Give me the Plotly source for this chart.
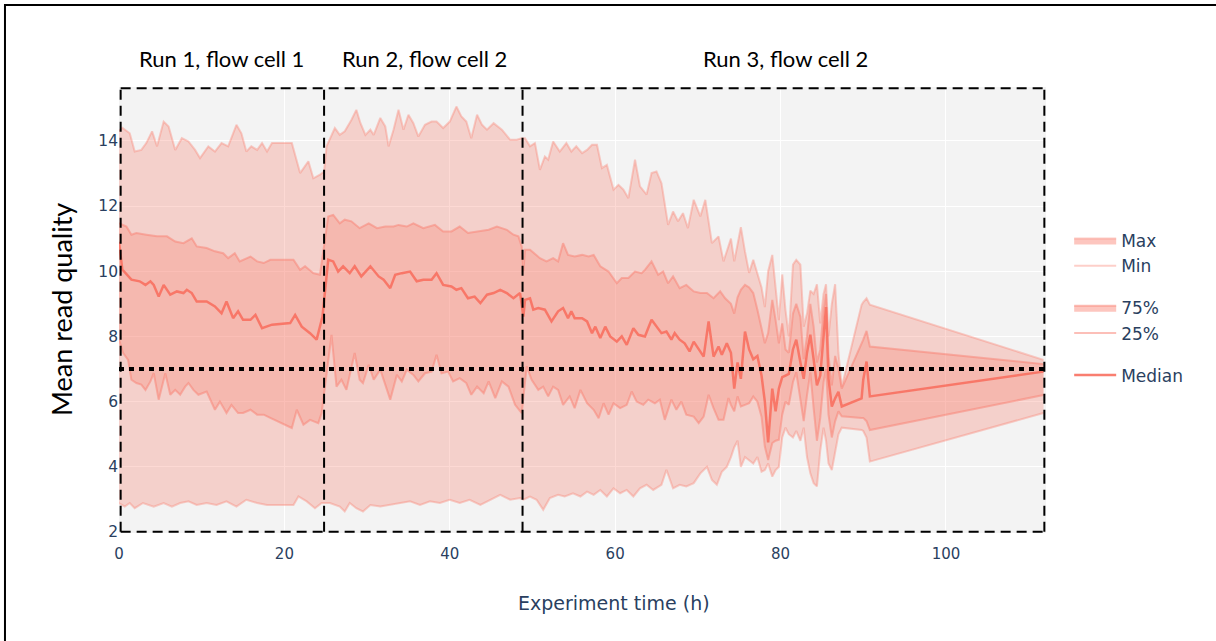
import plotly.graph_objects as go

# ---------------- data ----------------
late_t = [74.0, 74.4, 74.8, 75.2, 75.7, 76.2, 76.7, 77.2, 77.7, 78.1, 78.5, 79.0, 79.4, 79.8,
          80.2, 80.6, 81.0, 81.5, 81.9, 82.4, 82.8, 83.2, 83.6, 84.0, 84.4, 84.8, 85.2, 85.5,
          85.8, 86.2, 86.6, 87.0, 87.4, 89.8, 90.0, 90.4, 90.8, 111.8]

max_t = [0, 0.4, 1.3, 1.9, 2.7, 3.3, 4.0, 4.6, 5.4, 6.0, 6.8, 7.6, 8.4, 9.2, 9.8, 10.8, 11.6, 12.4,
         13.2, 14.2, 14.8, 15.4, 16.0, 16.7, 17.3, 17.9, 18.5, 20.9, 21.9, 22.9, 23.5, 24.3, 24.8,
         25.1, 26.1, 26.7, 27.3, 28.1, 28.7, 29.2, 29.8, 30.4, 30.8, 31.6, 32.2, 32.6, 33.2, 33.8,
         34.4, 35.0, 35.6, 36.2, 37.0, 37.8, 38.4, 39.2, 40.0, 40.8, 41.4, 42.0, 42.6, 43.3, 43.9,
         44.5, 45.3, 46.3, 47.3, 48.1, 48.7,
         49.1, 49.7, 50.3, 50.9, 51.5, 51.9, 52.5, 53.3, 54.1, 54.7, 55.3, 56.0, 56.6, 57.2, 57.8,
         58.4, 59.0, 59.8, 60.4, 61.0, 61.6, 62.4, 63.0, 63.8, 64.4, 65.0, 65.6, 66.4, 67.0, 67.6,
         68.2, 68.8, 69.5, 70.3, 70.9, 71.7, 72.5, 73.1] + late_t
max_v = [14.3, 14.4, 14.23, 13.67, 13.72, 13.93, 14.29, 13.83, 14.59, 14.44, 13.72, 14.08, 13.98,
         13.72, 13.47, 13.83, 13.67, 13.93, 13.83, 14.49, 14.23, 13.67, 13.83, 13.72, 13.93, 13.67,
         13.93, 13.93, 13.01, 13.37, 12.85, 12.96, 13.06,
         13.83, 14.39, 14.18, 14.29, 14.64, 14.95, 14.54, 14.18, 14.34, 14.18, 14.7, 14.44, 13.83,
         14.34, 14.95, 14.34, 14.8, 14.54, 14.13, 14.49, 14.59, 14.59, 14.39, 14.59, 15.05, 14.75,
         14.59, 14.08, 14.8, 14.49, 14.34, 14.54, 14.34, 14.03, 14.03, 14.08,
         14.08, 13.83, 13.93, 13.11, 13.52, 13.42, 13.98, 13.67, 13.93, 13.67, 13.83, 13.62, 13.72,
         13.88, 13.88, 13.16, 13.26, 12.5, 12.65, 12.5, 12.24, 13.42, 12.6, 12.35, 13.01, 13.06,
         12.7, 11.42, 11.83, 11.53, 11.78, 11.32, 12.19, 11.68, 12.19, 10.86, 11.07, 10.3,
         11.0, 10.3, 10.8, 11.35, 10.6, 9.95, 10.35, 9.9, 9.5, 8.9, 10.0, 10.5, 9.6, 8.5, 9.9, 8.8,
         8.0, 10.2, 10.35, 10.2, 8.3, 8.7, 9.4, 9.3, 9.6, 8.4, 9.3, 9.6, 8.0, 9.0, 9.6, 7.5, 6.45,
         8.97, 9.05, 9.17, 8.97, 7.28]

q75_t = [0, 0.9, 1.5, 2.1, 3.3, 4.6, 5.8, 6.8, 7.8, 8.8, 9.4, 10.6, 11.6, 12.6, 13.2, 14.0, 14.6,
         15.9, 16.7, 17.5, 18.3, 21.1, 21.9, 22.5, 23.5, 24.3,
         25.3, 25.9, 26.7, 27.3, 28.1, 29.1, 30.2, 31.2, 32.2, 33.2, 33.8, 34.8, 35.6, 36.8, 38.2,
         39.2, 40.2, 41.2, 42.2, 43.5, 44.7, 45.7, 46.9, 47.7, 48.3, 48.7, 48.9,
         49.1, 49.7, 50.9, 51.7, 52.5, 53.1, 53.7, 54.3, 55.1, 56.0, 56.8, 57.4, 58.2, 59.2, 60.2,
         60.8, 61.6, 62.4, 63.2, 63.6, 64.4, 65.2, 65.8, 66.4, 67.0, 67.8, 68.6, 69.5, 70.3, 71.1,
         71.9, 72.7, 73.3] + late_t
q75_v = [11.47, 11.37, 11.12, 11.17, 11.12, 11.07, 11.07, 10.91, 10.86, 11.01, 10.76, 10.71, 10.61,
         10.55, 10.4, 10.55, 10.3, 10.45, 10.3, 10.25, 10.35, 10.35, 10.04, 10.15, 9.94, 9.89,
         11.68, 11.73, 11.47, 11.58, 11.53, 11.32, 11.47, 11.32, 11.37, 11.37, 11.42, 11.37, 11.47,
         11.32, 11.42, 11.22, 11.22, 11.37, 11.17, 11.22, 11.27, 11.37, 11.27, 11.12, 11.07, 10.76,
         10.0,
         10.66, 10.66, 10.4, 10.3, 10.4, 10.3, 10.86, 10.5, 10.45, 10.5, 10.45, 10.5, 10.15, 9.99,
         9.63, 9.79, 9.79, 9.99, 9.94, 10.04, 10.3, 9.89, 9.99, 9.63, 9.84, 9.48, 9.58, 9.38, 9.33,
         9.33, 9.17, 9.38, 9.17,
         9.0, 8.7, 9.2, 9.43, 9.58, 9.5, 9.33, 8.82, 8.3, 7.79, 8.1, 9.12, 8.5, 7.79, 8.4, 7.6, 7.5,
         8.7, 9.0, 8.6, 7.3, 8.0, 9.0, 8.3, 7.2, 7.6, 8.8, 9.3, 7.4, 6.5, 7.4, 7.0, 6.4,
         7.76, 7.9, 8.17, 7.69, 7.15]

med_t = [0, 0.4, 1.5, 2.5, 3.2, 3.8, 4.2, 4.8, 5.4, 6.2, 7.0, 7.8, 8.2, 8.8, 9.4, 10.6, 11.6, 12.4,
         13.0, 13.8, 14.4, 15.0, 15.9, 16.5, 17.3, 18.5, 20.7, 21.3, 22.1, 23.1, 23.9, 24.6,
         25.3, 25.9, 26.5, 27.1, 27.9, 28.5, 29.3, 30.4, 31.4, 32.0, 32.8, 33.4, 34.2, 35.2, 36.0,
         36.8, 37.8, 38.4, 39.2, 40.2, 40.8, 41.4, 42.2, 43.0, 43.7, 44.5, 45.3, 46.1, 46.9, 47.7,
         48.5, 48.9,
         49.1, 49.7, 50.1, 50.7, 51.5, 52.3, 53.1, 53.7, 54.3, 54.7, 55.1, 56.0, 56.6, 57.2, 57.6,
         58.2, 58.8, 59.4, 60.2, 60.8, 61.4, 62.2, 62.8, 63.6, 64.4, 65.0, 65.6, 66.2, 66.8, 67.2,
         67.8, 68.4, 69.0, 69.5, 70.1, 70.7, 71.3, 71.9, 72.5, 72.9, 73.5] + late_t
med_v = [10.9, 10.05, 9.74, 9.69, 9.58, 9.69, 9.58, 9.22, 9.58, 9.28, 9.38, 9.33, 9.43, 9.33, 9.07,
         9.07, 8.92, 8.71, 9.07, 8.56, 8.77, 8.51, 8.51, 8.66, 8.25, 8.36, 8.41, 8.66, 8.3, 8.1,
         7.9, 8.6,
         10.35, 10.3, 9.99, 10.15, 9.94, 10.15, 9.84, 10.15, 9.84, 9.74, 9.48, 9.89, 9.94, 9.99,
         9.69, 9.74, 9.74, 9.94, 9.58, 9.53, 9.43, 9.48, 9.17, 9.22, 9.02, 9.28, 9.33, 9.43, 9.33,
         9.17, 9.33, 8.61,
         9.12, 9.17, 8.82, 8.87, 8.82, 8.46, 8.77, 8.87, 8.56, 8.77, 8.56, 8.56, 8.46, 8.1, 8.3,
         7.95, 8.3, 8.0, 7.84, 8.0, 7.74, 8.25, 8.05, 8.0, 8.51, 8.3, 8.1, 8.15, 7.9, 8.1, 7.9,
         7.79, 7.54, 7.84, 7.59, 7.38, 8.46, 7.38, 7.69, 7.44, 7.79,
         7.5, 6.4, 7.2, 6.7, 8.15, 7.6, 7.3, 7.4, 6.8, 6.0, 4.75, 6.4, 5.7, 6.4, 6.75, 6.8, 6.85,
         7.6, 7.9, 7.2, 6.7, 7.5, 8.05, 7.3, 6.5, 6.8, 7.9, 8.9, 6.7, 5.85, 6.1, 6.3, 5.85,
         6.1, 6.67, 7.23, 6.16, 6.92]

q25_t = [0, 0.5, 1.1, 1.5, 2.1, 2.7, 3.2, 3.8, 4.2, 4.8, 5.6, 6.2, 6.8, 7.4, 8.0, 8.4, 9.0, 9.6,
         10.6, 11.6, 12.2, 13.0, 13.6, 14.4, 15.0, 15.9, 16.7, 17.5, 18.3, 19.7, 20.9, 21.5, 22.3,
         23.1, 24.1, 24.5,
         25.3, 25.7, 26.3, 26.9, 27.5, 28.5, 29.1, 29.5, 30.2, 30.8, 31.6, 32.8, 33.6, 34.2, 34.8,
         35.6, 36.2, 37.0, 37.8, 38.4, 39.0, 39.8, 40.4, 41.2, 42.0, 42.6, 43.3, 44.1, 44.7, 45.5,
         46.3, 47.1, 47.9, 48.7,
         49.3, 49.9, 50.7, 51.3, 51.9, 52.5, 53.1, 53.7, 54.5, 55.1, 55.8, 56.6, 57.4, 58.0, 58.6,
         59.2, 59.8, 60.6, 61.4, 62.0, 62.6, 63.4, 64.0, 64.8, 65.4, 66.0, 66.8, 67.4, 68.0, 68.6,
         69.5, 70.1, 70.7, 71.3, 71.9, 72.5, 73.1, 73.7] + late_t
q25_v = [7.9, 7.49, 7.28, 6.67, 6.57, 6.52, 6.36, 6.62, 6.87, 6.06, 6.87, 6.21, 6.36, 6.21, 6.46,
         6.57, 6.36, 6.21, 6.31, 5.75, 6.0, 5.65, 5.9, 5.65, 5.65, 5.75, 5.6, 5.6, 5.5, 5.34, 5.19,
         5.75, 5.29, 5.44, 5.34, 5.65,
         7.38, 8.05, 6.46, 6.67, 6.36, 7.49, 6.67, 6.57, 7.13, 6.67, 6.98, 6.06, 6.82, 6.62, 6.98,
         6.82, 6.62, 6.87, 6.92, 7.44, 6.87, 6.92, 6.62, 6.72, 6.57, 6.21, 6.46, 6.26, 6.62, 6.11,
         6.62, 6.46, 5.9, 5.65,
         7.08, 6.67, 6.36, 6.46, 6.16, 6.46, 6.36, 5.9, 6.16, 5.8, 6.36, 5.95, 5.75, 5.49, 5.95,
         5.6, 5.95, 5.8, 5.9, 6.31, 6.0, 5.9, 6.06, 5.95, 6.06, 5.44, 6.06, 5.75, 6.0, 5.6, 5.54,
         5.34, 5.54, 6.21, 5.8, 5.44, 5.44, 6.11,
         5.9, 5.7, 6.16, 5.85, 5.9, 5.95, 6.16, 6.0, 5.54, 4.62, 4.21, 4.73, 4.8, 4.83, 5.6, 6.0,
         5.9, 6.6, 6.9, 6.0, 5.4, 6.2, 6.9, 5.8, 4.8, 5.5, 6.6, 7.0, 5.6, 4.9, 5.4, 5.7, 5.55,
         5.5, 5.5, 5.4, 5.13, 6.2]

min_t = [0, 0.7, 1.3, 1.9, 2.9, 4.2, 5.4, 6.4, 7.4, 8.4, 9.4, 10.6, 11.8, 13.0, 14.2, 15.4, 16.7,
         17.9, 21.1, 21.7, 22.7, 23.7, 24.5,
         25.5, 26.7, 27.3, 27.9, 28.7, 29.5, 30.4, 31.6, 32.8, 34.0, 35.2, 36.4, 37.6, 38.8, 40.0,
         41.2, 42.4, 43.7, 44.9, 46.1, 47.3, 48.5,
         48.9, 49.7, 50.5, 51.3, 52.1, 53.1, 53.9, 54.9, 55.8, 56.6, 57.4, 58.2, 59.0, 59.8, 60.6,
         61.4, 62.2, 63.0, 63.8, 64.6, 65.6, 66.2, 67.0, 67.8, 68.6, 69.5, 70.3, 71.1, 71.7, 72.3,
         72.9, 73.5] + late_t
min_v = [2.89, 2.78, 2.89, 2.73, 2.89, 2.78, 2.89, 2.78, 2.89, 2.94, 2.83, 2.89, 2.83, 2.94, 2.78,
         2.99, 2.89, 2.83, 2.83, 3.09, 2.94, 2.73, 2.89,
         2.89, 2.78, 2.63, 2.89, 2.73, 2.63, 2.83, 2.78, 2.83, 2.89, 2.94, 2.83, 2.94, 2.89, 2.99,
         2.89, 2.99, 2.83, 2.99, 3.14, 2.99, 3.04,
         2.99, 3.09, 2.99, 2.68, 3.04, 3.14, 3.09, 3.19, 3.09, 3.24, 3.14, 3.29, 3.09, 3.34, 3.19,
         3.29, 3.09, 3.34, 3.45, 3.29, 3.45, 3.91, 3.34, 3.45, 3.4, 3.5, 3.8, 4.0, 3.6, 3.45, 3.85,
         4.0,
         4.3, 4.6, 4.8, 4.0, 4.3, 4.2, 4.1, 4.3, 3.85, 3.9, 4.1, 3.7, 3.9, 4.0, 4.9, 5.2, 5.0, 4.9,
         5.1, 4.8, 5.2, 4.3, 3.8, 3.5, 3.4, 4.5, 5.2, 4.8, 4.1, 3.9, 4.4, 5.0, 5.2,
         5.13, 5.1, 4.9, 4.16, 5.65]

run_bounds = [0.2, 24.8, 48.8, 111.9]
run_labels = ["Run 1, flow cell 1", "Run 2, flow cell 2", "Run 3, flow cell 2"]
threshold = 7
x_ticks = [0, 20, 40, 60, 80, 100]
y_ticks = [2, 4, 6, 8, 10, 12, 14]

# ---------------- styles ----------------
FILL = "rgba(250,128,114,0.30)"
EDGE_OUT = "rgba(250,128,114,0.38)"
EDGE_IN = "rgba(250,128,114,0.50)"
MED = "rgba(248,112,96,0.90)"
TXT = "#2a3f5f"
BASE_FONT = "DejaVu Sans, Verdana, sans-serif"

fig = go.Figure()
# real data traces (legend entries are added separately below, in the reference order)
fig.add_trace(go.Scatter(x=min_t, y=min_v, name="Min", mode="lines", legendgroup="mm",
                         showlegend=False, line=dict(color=EDGE_OUT, width=2)))
fig.add_trace(go.Scatter(x=max_t, y=max_v, name="Max", mode="lines", legendgroup="mm",
                         showlegend=False, fill="tonexty", fillcolor=FILL,
                         line=dict(color=EDGE_OUT, width=2)))
fig.add_trace(go.Scatter(x=q25_t, y=q25_v, name="25%", mode="lines", legendgroup="q",
                         showlegend=False, line=dict(color=EDGE_IN, width=2)))
fig.add_trace(go.Scatter(x=q75_t, y=q75_v, name="75%", mode="lines", legendgroup="q",
                         showlegend=False, fill="tonexty", fillcolor=FILL,
                         line=dict(color=EDGE_IN, width=2)))
fig.add_trace(go.Scatter(x=med_t, y=med_v, name="Median", mode="lines", legendgroup="med",
                         showlegend=False, line=dict(color=MED, width=2.5)))

# legend-only entries
legend_items = [("Max", "mm", True, EDGE_OUT), ("Min", "mm", False, EDGE_OUT),
                ("75%", "q", True, EDGE_IN), ("25%", "q", False, EDGE_IN),
                ("Median", "med", False, MED)]
for name, grp, filled, col in legend_items:
    fig.add_trace(go.Scatter(x=[None], y=[None], name=name, mode="lines", legendgroup=grp,
                             fill="toself" if filled else "none",
                             fillcolor="rgba(250,128,114,0.45)" if filled else None,
                             line=dict(color=col, width=2.5 if name == "Median" else 2)))

shapes = []
x0, x1 = run_bounds[0], run_bounds[-1]
dash_line = dict(color="black", width=2, dash="10px,6px")
shapes.append(dict(type="line", xref="x", yref="paper", x0=x0, x1=x1, y0=0.997, y1=0.997,
                   line=dash_line, layer="above"))
shapes.append(dict(type="line", xref="x", yref="paper", x0=x0, x1=x1, y0=0.003, y1=0.003,
                   line=dash_line, layer="above"))
for xb in run_bounds:
    shapes.append(dict(type="line", xref="x", yref="paper", x0=xb, x1=xb, y0=0.003, y1=0.997,
                       line=dash_line, layer="above"))
shapes.append(dict(type="line", xref="paper", yref="y", x0=0, x1=1, y0=threshold, y1=threshold,
                   line=dict(color="black", width=4, dash="5px,5px"), layer="above"))
# outer frame (top + left edges)
shapes.append(dict(type="line", xref="paper", yref="paper", x0=-0.124, x1=1.2, y0=1.184, y1=1.184,
                   line=dict(color="black", width=2)))
shapes.append(dict(type="line", xref="paper", yref="paper", x0=-0.123, x1=-0.123, y0=1.186, y1=-0.3,
                   line=dict(color="black", width=2)))

annotations = []
for lab, xc in zip(run_labels, [0.1105, 0.3295, 0.7190]):
    annotations.append(dict(text=lab, xref="paper", yref="paper", x=xc, y=1.065, showarrow=False,
                            xanchor="center", yanchor="middle",
                            font=dict(family="Lato", size=22, color="black")))
annotations.append(dict(text="Mean read quality", xref="paper", yref="paper", x=-0.0625, y=0.5,
                        textangle=-90, showarrow=False, xanchor="center", yanchor="middle",
                        font=dict(family="Lato", size=27, color="black")))
annotations.append(dict(text="Experiment time (h)", xref="paper", yref="paper", x=0.534, y=-0.157,
                        showarrow=False, xanchor="center", yanchor="middle",
                        font=dict(family=BASE_FONT, size=19, color=TXT)))

fig.update_layout(
    width=1216, height=641,
    margin=dict(l=119, r=170, t=87, b=108),
    paper_bgcolor="white", plot_bgcolor="#f3f3f3",
    font=dict(family=BASE_FONT, size=15, color=TXT),
    shapes=shapes, annotations=annotations,
    legend=dict(x=1.025, y=0.695, xanchor="left", yanchor="top", tracegroupgap=17,
                traceorder="grouped", itemwidth=42,
                font=dict(family=BASE_FONT, size=17, color=TXT),
                bgcolor="rgba(0,0,0,0)"),
    showlegend=True,
)
fig.update_xaxes(range=[0, 112.1], tickvals=x_ticks, showgrid=True, gridcolor="white",
                 gridwidth=1, zeroline=False, showline=False, ticks="outside", ticklen=7,
                 tickcolor="rgba(0,0,0,0)", tickfont=dict(family=BASE_FONT, size=15, color=TXT))
fig.update_yaxes(range=[1.97, 15.65], tickvals=y_ticks, showgrid=True, gridcolor="white",
                 gridwidth=1, zeroline=False, showline=False, ticks="",
                 tickfont=dict(family=BASE_FONT, size=15.5, color=TXT))

fig.write_html("out.html")
